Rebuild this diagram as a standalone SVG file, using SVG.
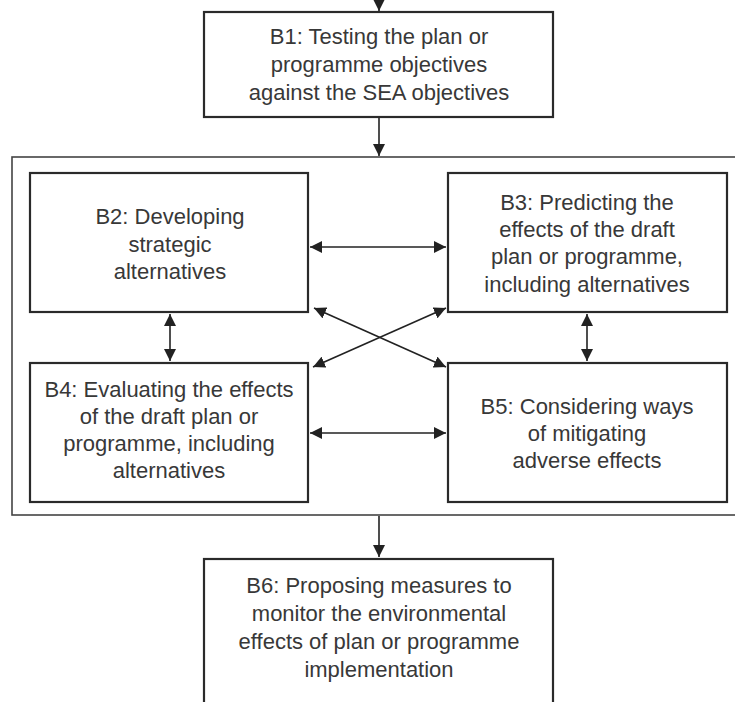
<svg xmlns="http://www.w3.org/2000/svg" width="735" height="702" viewBox="0 0 735 702">
<defs>
<style>
.box{fill:#fff;stroke:#2a2a2a;stroke-width:2.2}
.frame{fill:none;stroke:#444;stroke-width:1.6}
.lbl{font-family:"Liberation Sans",Arial,sans-serif;font-size:22px;fill:#383838;text-anchor:middle}
.con{stroke:#222;stroke-width:1.6;fill:none}
</style>
<marker id="ah" viewBox="0 0 10 10" refX="10" refY="5" markerWidth="12" markerHeight="12" markerUnits="userSpaceOnUse" orient="auto-start-reverse">
<path d="M0,0 L10,5 L0,10 z" fill="#222"/>
</marker>
</defs>
<rect width="735" height="702" fill="#fff"/>
<rect id="frame" class="frame" x="12" y="157" width="730" height="358"/>
<g id="connectors">
<line class="con" x1="379" y1="0" x2="379" y2="11" marker-end="url(#ah)"/>
<line class="con" x1="379" y1="118" x2="379" y2="156" marker-end="url(#ah)"/>
<line class="con" x1="379" y1="516" x2="379" y2="557" marker-end="url(#ah)"/>
<line class="con" x1="310" y1="247" x2="446" y2="247" marker-start="url(#ah)" marker-end="url(#ah)"/>
<line class="con" x1="310" y1="433" x2="446" y2="433" marker-start="url(#ah)" marker-end="url(#ah)"/>
<line class="con" x1="170" y1="314" x2="170" y2="361" marker-start="url(#ah)" marker-end="url(#ah)"/>
<line class="con" x1="587" y1="314" x2="587" y2="361" marker-start="url(#ah)" marker-end="url(#ah)"/>
<line class="con" x1="314" y1="308" x2="446" y2="367" marker-start="url(#ah)" marker-end="url(#ah)"/>
<line class="con" x1="446" y1="308" x2="313" y2="367" marker-start="url(#ah)" marker-end="url(#ah)"/>
</g>
<g id="B1">
<rect class="box" x="204" y="12" width="349" height="105"/>
<text class="lbl" x="379" y="44">B1: Testing the plan or</text>
<text class="lbl" x="379" y="72">programme objectives</text>
<text class="lbl" x="379" y="100">against the SEA objectives</text>
</g>
<g id="B2">
<rect class="box" x="30" y="173" width="278" height="139"/>
<text class="lbl" x="170" y="224">B2: Developing</text>
<text class="lbl" x="170" y="252">strategic</text>
<text class="lbl" x="170" y="279">alternatives</text>
</g>
<g id="B3">
<rect class="box" x="448" y="173" width="279" height="139"/>
<text class="lbl" x="587" y="210">B3: Predicting the</text>
<text class="lbl" x="587" y="237">effects of the draft</text>
<text class="lbl" x="587" y="264">plan or programme,</text>
<text class="lbl" x="587" y="292">including alternatives</text>
</g>
<g id="B4">
<rect class="box" x="30" y="363" width="278" height="139"/>
<text class="lbl" x="169" y="397">B4: Evaluating the effects</text>
<text class="lbl" x="169" y="424">of the draft plan or</text>
<text class="lbl" x="169" y="451">programme, including</text>
<text class="lbl" x="169" y="478">alternatives</text>
</g>
<g id="B5">
<rect class="box" x="448" y="363" width="279" height="139"/>
<text class="lbl" x="587" y="414">B5: Considering ways</text>
<text class="lbl" x="587" y="441">of mitigating</text>
<text class="lbl" x="587" y="468">adverse effects</text>
</g>
<g id="B6">
<rect class="box" x="204" y="559" width="349" height="160"/>
<text class="lbl" x="379" y="593">B6: Proposing measures to</text>
<text class="lbl" x="379" y="621">monitor the environmental</text>
<text class="lbl" x="379" y="649">effects of plan or programme</text>
<text class="lbl" x="379" y="677">implementation</text>
</g>
</svg>
